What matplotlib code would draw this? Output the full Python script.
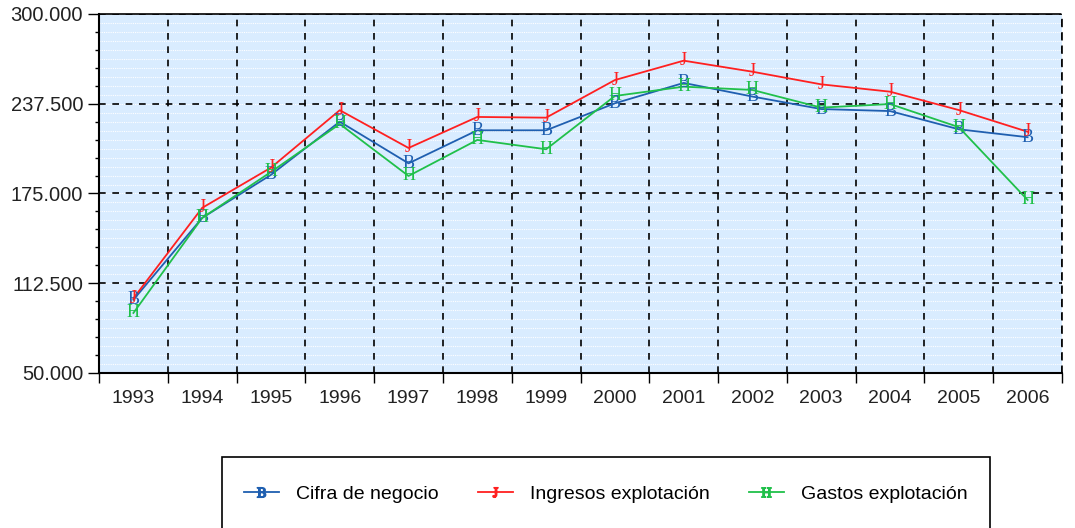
import matplotlib
matplotlib.use('Agg')
import matplotlib.pyplot as plt
from matplotlib.lines import Line2D
from matplotlib.patches import Rectangle
from matplotlib.ticker import FixedLocator, FuncFormatter

plt.rcParams['font.family'] = ['Liberation Sans', 'DejaVu Sans']
plt.rcParams['mathtext.fontset'] = 'stix'

years = ['1993', '1994', '1995', '1996', '1997', '1998', '1999',
         '2000', '2001', '2002', '2003', '2004', '2005', '2006']
cifra = [101000, 158000, 188000, 225000, 196000, 219000, 219000,
         237800, 252000, 242500, 233800, 232400, 219700, 214200]
ingresos = [102000, 165000, 193000, 233000, 206700, 228300, 227800,
            254000, 267500, 259800, 251000, 245900, 233100, 218000]
gastos = [91800, 158000, 190000, 223400, 187200, 212300, 205800,
          242900, 249400, 247100, 234800, 237300, 221200, 170500]

series = [('Cifra de negocio', cifra, '#1f5fb0', 'B'),
          ('Ingresos explotación', ingresos, '#ff2020', 'J'),
          ('Gastos explotación', gastos, '#20c04a', 'H')]

fig = plt.figure(figsize=(10.75, 5.28), dpi=100)
ax = fig.add_axes([0.0921, 0.2936, 0.8958, 0.6799])
ax.set_facecolor('#d9ecff')

x = list(range(len(years)))
handles = []
for label, vals, col, letter in series:
    ax.plot(x, vals, color=col, lw=1.3, zorder=3)
    for xi, v in zip(x, vals):
        ax.text(xi, v, letter, color=col, fontsize=13, family='Liberation Serif',
                ha='center', va='center', zorder=4)
    handles.append(Line2D([0], [0], color=col, lw=1.3, marker=r'$\mathrm{' + letter + '}$',
                          markersize=7, label=label))

ax.set_xlim(-0.5, len(years) - 0.5)
ax.set_ylim(50000, 300000)

# category boundaries carry the ticks and dashed grid, labels sit at centres
ax.xaxis.set_major_locator(FixedLocator([i + 0.5 for i in range(-1, len(years))]))
ax.xaxis.set_minor_locator(FixedLocator(x))
ax.set_xticklabels([''] * (len(years) + 1))
ax.set_xticklabels(years, minor=True)
ax.tick_params(axis='x', which='major', length=7, width=1, direction='out')
ax.tick_params(axis='x', which='minor', length=0, pad=12, labelsize=14, labelcolor='#222222')

ax.yaxis.set_major_locator(FixedLocator([50000, 112500, 175000, 237500, 300000]))
ax.yaxis.set_minor_locator(FixedLocator([50000 + 12500 * i for i in range(21)]))
ax.yaxis.set_major_formatter(FuncFormatter(lambda v, p: f'{int(v):,}'.replace(',', '.')))
ax.tick_params(axis='y', which='major', length=8, width=1, labelsize=14.5, labelcolor='#222222')
ax.tick_params(axis='y', which='minor', length=3, width=1)

# fine white dotted lines
for v in range(50000, 300001, 6250):
    ax.axhline(v, color='white', lw=0.8, ls=(0, (1, 1)), zorder=1)
ax.grid(True, which='major', color='black', ls=(0, (4, 4)), lw=1.2, zorder=2)

ax.spines['left'].set_linewidth(1.5)
ax.spines['bottom'].set_linewidth(1.5)
ax.spines['top'].set_linestyle((0, (1, 1)))
ax.spines['top'].set_linewidth(1.2)
ax.spines['right'].set_linestyle((0, (4, 4)))
ax.spines['right'].set_linewidth(1.2)

# legend box, cut off at bottom of the image
fig.patches.append(Rectangle((0.2065, -0.05), 0.7144, 0.1845, transform=fig.transFigure,
                             fill=False, edgecolor='black', lw=1.2))
fig.legend(handles=handles, loc='center', bbox_to_anchor=(0.5637, 0.064), ncol=3,
           frameon=False, fontsize=14, handlelength=1.8, columnspacing=2.0,
           handletextpad=0.9)

fig.savefig('out.png', dpi=100)
